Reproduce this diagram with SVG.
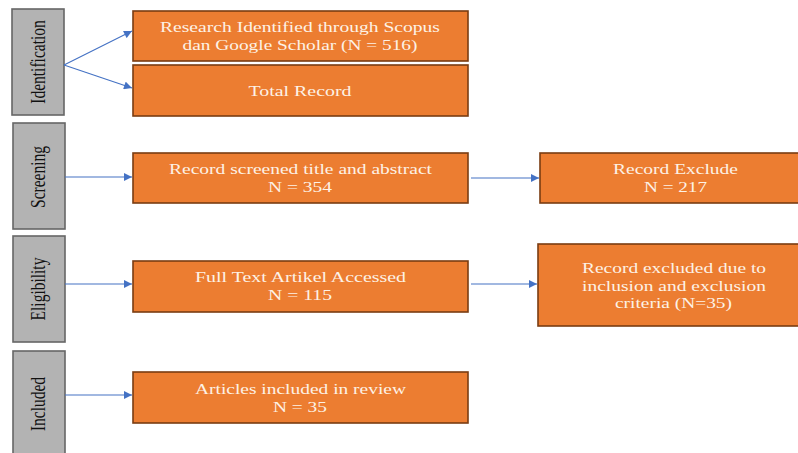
<svg xmlns="http://www.w3.org/2000/svg" width="798" height="453" viewBox="0 0 798 453">
<style>
.stage{fill:#b3b3b3;stroke:#666;stroke-width:1.6}
.box{fill:#ec7d31;stroke:#7a3c12;stroke-width:1.6}
.t{font-family:"Liberation Serif","Times New Roman",serif;font-size:15.5px;fill:#fdf2e6;text-anchor:middle}
.s{font-family:"Liberation Serif","Times New Roman",serif;font-size:15.5px;fill:#111;text-anchor:middle}
.c{stroke:#4472c4;stroke-width:1.1;fill:none;marker-end:url(#ah)}
</style>
<defs>
<marker id="ah" viewBox="0 0 10 10" refX="10" refY="5" markerWidth="10" markerHeight="8" markerUnits="userSpaceOnUse" orient="auto">
<path d="M0,0 L10,5 L0,10 z" fill="#4472c4"/>
</marker>
</defs>
<rect width="798" height="453" fill="#fff"/>
<g id="stage-identification">
<rect class="stage" x="12" y="9" width="52" height="106"/>
<text class="s" transform="translate(45,62) scale(1.3,1) rotate(-90)">Identification</text>
</g>
<g id="stage-screening">
<rect class="stage" x="13" y="123" width="52" height="106"/>
<text class="s" transform="translate(45,177) scale(1.3,1) rotate(-90)">Screening</text>
</g>
<g id="stage-eligibility">
<rect class="stage" x="13" y="236" width="52" height="106"/>
<text class="s" transform="translate(45,289) scale(1.3,1) rotate(-90)">Eligibility</text>
</g>
<g id="stage-included">
<rect class="stage" x="13" y="351" width="52" height="110"/>
<text class="s" transform="translate(45,404) scale(1.3,1) rotate(-90)">Included</text>
</g>
<g id="n-identified">
<rect class="box" x="133" y="11" width="335" height="50"/>
<text class="t" x="300" y="31.5" textLength="280" lengthAdjust="spacingAndGlyphs">Research Identified through Scopus</text>
<text class="t" x="300" y="49.5" textLength="235" lengthAdjust="spacingAndGlyphs">dan Google Scholar (N = 516)</text>
</g>
<g id="n-total">
<rect class="box" x="133" y="65" width="335" height="51"/>
<text class="t" x="300" y="96" textLength="103" lengthAdjust="spacingAndGlyphs">Total Record</text>
</g>
<g id="n-screened">
<rect class="box" x="133" y="153" width="335" height="50"/>
<text class="t" x="300.5" y="174" textLength="263" lengthAdjust="spacingAndGlyphs">Record screened title and abstract</text>
<text class="t" x="300" y="192" textLength="64" lengthAdjust="spacingAndGlyphs">N = 354</text>
</g>
<g id="n-exclude">
<rect class="box" x="540" y="153" width="270" height="50"/>
<text class="t" x="675.5" y="174" textLength="125" lengthAdjust="spacingAndGlyphs">Record Exclude</text>
<text class="t" x="675.5" y="192" textLength="63" lengthAdjust="spacingAndGlyphs">N = 217</text>
</g>
<g id="n-fulltext">
<rect class="box" x="133" y="261" width="335" height="51"/>
<text class="t" x="300.5" y="282" textLength="211" lengthAdjust="spacingAndGlyphs">Full Text Artikel Accessed</text>
<text class="t" x="300" y="300" textLength="64" lengthAdjust="spacingAndGlyphs">N = 115</text>
</g>
<g id="n-excluded-criteria">
<rect class="box" x="538" y="244" width="272" height="82"/>
<text class="t" x="674" y="273" textLength="184" lengthAdjust="spacingAndGlyphs">Record excluded due to</text>
<text class="t" x="674" y="290.5" textLength="184" lengthAdjust="spacingAndGlyphs">inclusion and exclusion</text>
<text class="t" x="673.5" y="308" textLength="117" lengthAdjust="spacingAndGlyphs">criteria (N=35)</text>
</g>
<g id="n-included">
<rect class="box" x="133" y="372" width="335" height="51"/>
<text class="t" x="300.5" y="394" textLength="211" lengthAdjust="spacingAndGlyphs">Articles included in review</text>
<text class="t" x="300" y="412" textLength="54" lengthAdjust="spacingAndGlyphs">N = 35</text>
</g>
<g id="connectors">
<path class="c" d="M64,65 L132,31"/>
<path class="c" d="M64,65 L132,88"/>
<path class="c" d="M65,177 L132,177"/>
<path class="c" d="M65,284 L132,284"/>
<path class="c" d="M65,395 L132,395"/>
<path class="c" d="M471,178 L539,178"/>
<path class="c" d="M471,284 L537,284"/>
</g>
</svg>
